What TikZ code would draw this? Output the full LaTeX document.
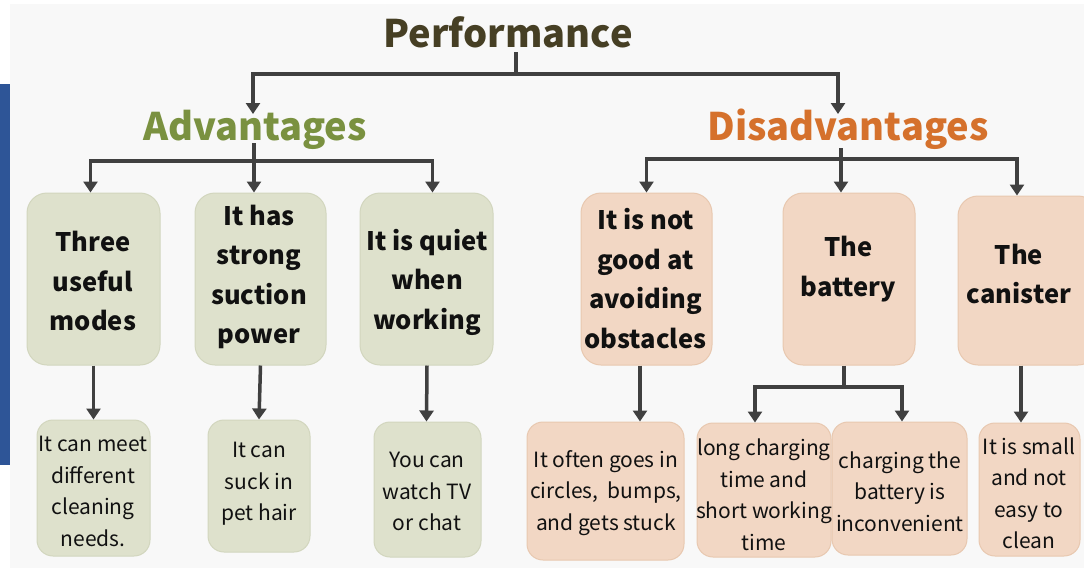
\documentclass[tikz,border=0pt]{standalone}
\usepackage{fontspec}
\setmainfont{Noto Sans CJK SC}
\usetikzlibrary{arrows.meta}
\definecolor{bgc}{HTML}{F8F8F8}
\definecolor{barc}{HTML}{2E5597}
\definecolor{greenfill}{HTML}{DEE1CC}
\definecolor{greenline}{HTML}{D2D6BE}
\definecolor{peachfill}{HTML}{F2D7C4}
\definecolor{peachline}{HTML}{E8C8B0}
\definecolor{arrc}{HTML}{404040}
\definecolor{perfc}{HTML}{463F24}
\definecolor{advc}{HTML}{7A9140}
\definecolor{disc}{HTML}{D5712C}
\definecolor{txtc}{HTML}{111111}
\tikzset{
  gbox/.style={draw=greenline, fill=greenfill, line width=1pt, rounded corners=20pt, inner sep=0pt},
  pbox/.style={draw=peachline, fill=peachfill, line width=1pt, rounded corners=20pt, inner sep=0pt},
  gsmall/.style={gbox, rounded corners=16pt},
  psmall/.style={pbox, rounded corners=16pt},
  btxt/.style={align=center, inner sep=0pt, text=txtc, font=\fontsize{25.5}{39.5}\selectfont\bfseries},
  ntxt/.style={align=center, inner sep=0pt, text=txtc, font=\fontsize{21}{31.5}\selectfont},
  head/.style={anchor=base, inner sep=0pt, font=\fontsize{38}{44}\selectfont\bfseries},
  conn/.style={draw=arrc, line width=3.5pt},
  arr/.style={conn, -{Triangle[width=14pt,length=11pt]}}
}
\begin{document}
\begin{tikzpicture}[x=1pt,y=-1pt]
\useasboundingbox (0,0) rectangle (1084,573);
\fill[white] (0,0) rectangle (1084,573);
\fill[bgc] (10,4) rectangle (1084,568);
\fill[barc] (0,84) rectangle (10,465);

% headings
\node[head, text=perfc] (perf) at (508,47) {Performance};
\node[head, text=advc] (adv) at (255,140) {Advantages};
\node[head, text=disc] (dis) at (848,140) {Disadvantages};

% row 1 boxes
\node[gbox, minimum width=133pt, minimum height=172pt] (a1) at (93.5,279) {};
\node[gbox, minimum width=131pt, minimum height=172pt] (a2) at (260.5,279) {};
\node[gbox, minimum width=133pt, minimum height=172pt] (a3) at (426.5,279) {};
\node[pbox, minimum width=131pt, minimum height=172pt] (d1) at (646.5,279) {};
\node[pbox, minimum width=132pt, minimum height=172pt] (d2) at (849,279) {};
\node[pbox, minimum width=140pt, minimum height=169pt] (d3) at (1028,280.5) {};

\node[btxt] (a1t) at (93,281) {Three\\useful\\modes};
\node[btxt] (a2t) at (259,277) {It has\\strong\\suction\\power};
\node[btxt] (a3t) at (427,282) {It is quiet\\when\\working};
\node[btxt] (d1t) at (645.5,278.5) {It is not\\good at\\avoiding\\obstacles};
\node[btxt] (d2t) at (848.5,269) {The\\battery};
\node[btxt] (d3t) at (1019,274) {The\\canister};

% row 2 boxes
\node[gsmall, minimum width=113pt, minimum height=136pt] (a1b) at (93.5,488) {};
\node[gsmall, minimum width=102pt, minimum height=132pt] (a2b) at (259,486) {};
\node[gsmall, minimum width=107pt, minimum height=135pt] (a3b) at (427.5,489.5) {};
\node[psmall, minimum width=157pt, minimum height=138pt] (d1b) at (605.5,491) {};
\node[psmall, minimum width=134pt, minimum height=134pt] (d2b) at (764,490) {};
\node[psmall, minimum width=135pt, minimum height=133pt] (d2c) at (899.5,488.5) {};
\node[psmall, minimum width=101pt, minimum height=133pt] (d3b) at (1029.5,489.5) {};

\node[ntxt] (a1bt) at (93,491.5) {It can meet\\different\\cleaning\\needs.};
\node[ntxt] (a2bt) at (259,484) {It can\\suck in\\pet hair};
\node[ntxt] (a3bt) at (427,491.5) {You can\\watch TV\\or chat};
\node[ntxt] (d1bt) at (606,493) {It often goes in\\circles,~ bumps,\\and gets stuck};
\node[ntxt] (d2bt) at (764,495) {long charging\\time and\\short working\\time};
\node[ntxt] (d2ct) at (900,491.5) {charging the\\battery is\\inconvenient};
\node[ntxt] (d3bt) at (1029,493.5) {It is small\\and not\\easy to\\clean};

% connectors: Performance
\coordinate (pj) at (516,74);
\coordinate (ps) at (516,52);
\coordinate (advtip) at (253,114);
\coordinate (distip) at (838,114);
\draw[conn] (ps) -- (pj);
\draw[arr] (pj) -| (advtip);
\draw[arr] (pj) -| (distip);

% Advantages
\coordinate (as) at (254,143);
\coordinate (aj) at (254,161);
\draw[conn] (as) -- (aj);
\draw[arr] (aj) -| ([xshift=-3pt]a1.north);
\draw[arr] (aj) -- (a2.north -| aj);
\draw[arr] (aj) -| ([xshift=6pt]a3.north);

% Disadvantages
\coordinate (ds) at (841,148);
\coordinate (dj) at (841,159);
\draw[conn] (ds) -- (dj);
\draw[arr] (dj) -| (d1.north);
\draw[arr] (dj) -- (d2.north -| dj);
\draw[arr] (dj) -| ([xshift=-11pt]d3.north);

% row1 -> row2
\draw[arr] (a1.south) -- (a1b.north);
\draw[arr] (a2.south) -- (a2b.north);
\draw[arr] ([xshift=0.5pt]a3.south) -- (a3b.north -| a3.south);
\draw[arr] ([xshift=-6.5pt]d1.south) -- ([xshift=34.5pt]d1b.north);
\coordinate (bj) at (844,387);
\draw[conn] ([xshift=-5pt]d2.south) -- (bj);
\draw[arr] (bj) -| ([xshift=-9pt]d2b.north);
\draw[arr] (bj) -| ([xshift=2.5pt]d2c.north);
\draw[arr] ([xshift=-7pt]d3.south) -- ([xshift=-8.5pt]d3b.north);
\end{tikzpicture}
\end{document}
